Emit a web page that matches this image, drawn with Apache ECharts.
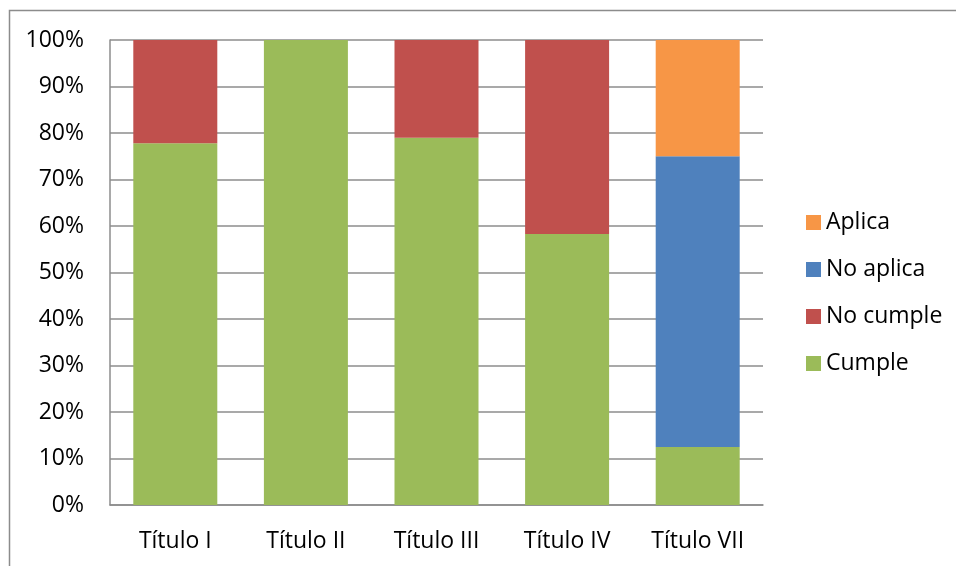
<!DOCTYPE html>
<html>
<head>
<meta charset="utf-8">
<script src="https://cdn.jsdelivr.net/npm/echarts@6/dist/echarts.min.js"></script>
<style>
  html, body { margin: 0; padding: 0; background: #fff; }
  #chart { width: 956px; height: 566px; }
</style>
</head>
<body>
<div id="chart"></div>
<script>
// Categories and stacked shares (percent of each título)
var categories = ['Título I', 'Título II', 'Título III', 'Título IV', 'Título VII'];
var cumple    = [77.8, 100, 79.0, 58.3, 12.5];
var noCumple  = [22.2, 0, 21.0, 41.7, 0];
var noAplica  = [0, 0, 0, 0, 62.5];
var aplica    = [0, 0, 0, 0, 25.0];
var legendOrder = ['Aplica', 'No aplica', 'No cumple', 'Cumple'];

var FONT = 'Open Sans';
var FS = 23;

function bar(name, data, color) {
  return {
    name: name,
    type: 'bar',
    stack: 'total',
    barWidth: 84,
    data: data,
    itemStyle: { color: color },
    emphasis: { disabled: true }
  };
}

var chart = echarts.init(document.getElementById('chart'), null, { renderer: 'canvas' });
chart.setOption({
  animation: false,
  backgroundColor: '#ffffff',
  textStyle: { fontFamily: FONT },
  graphic: [{
    type: 'rect',
    shape: { x: 9.5, y: 10.5, width: 1200, height: 1200 },
    style: { fill: 'none', stroke: '#8c8c8c', lineWidth: 1.5 },
    silent: true
  }],
  grid: { left: 110, top: 40, right: 193, bottom: 61 },
  legend: {
    orient: 'vertical',
    left: 801,
    top: 206,
    itemWidth: 15,
    itemHeight: 15,
    itemGap: 24,
    icon: 'rect',
    data: legendOrder,
    textStyle: { fontFamily: FONT, fontSize: FS, color: '#000' }
  },
  xAxis: {
    type: 'category',
    data: categories,
    axisTick: { show: false },
    axisLine: { lineStyle: { color: '#8c8c8c', width: 1.5 } },
    axisLabel: { color: '#000', fontFamily: FONT, fontSize: FS, margin: 25 }
  },
  yAxis: {
    type: 'value',
    min: 0,
    max: 100,
    interval: 10,
    axisLine: { show: true, lineStyle: { color: '#8c8c8c', width: 1.5 } },
    axisTick: { show: false },
    splitLine: { lineStyle: { color: '#8c8c8c', width: 1.5 } },
    axisLabel: { color: '#000', fontFamily: FONT, fontSize: FS, margin: 26, formatter: '{value}%' }
  },
  series: [
    bar('Cumple', cumple, '#9BBB59'),
    bar('No cumple', noCumple, '#C0504D'),
    bar('No aplica', noAplica, '#4F81BD'),
    bar('Aplica', aplica, '#F79646')
  ]
});
</script>
</body>
</html>
